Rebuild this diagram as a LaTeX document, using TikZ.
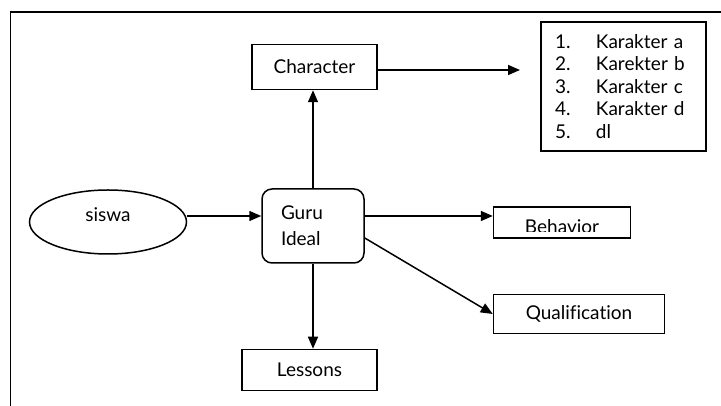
\documentclass[tikz,border=0pt]{standalone}
\usepackage{fontspec}
\setmainfont{Lato}[Ligatures=NoCommon]
\usetikzlibrary{arrows.meta,positioning,shapes.geometric}

\begin{document}
\begin{tikzpicture}[x=1pt,y=1pt,>={Triangle[length=12pt,width=10pt]},
                    line width=1.5pt,font=\fontsize{19}{22.5}\selectfont,
                    box node/.style={rectangle,draw,inner sep=0pt}]
  \useasboundingbox (0,0) rectangle (721,406);
  \draw (10.5,0) -- (10.5,394) -- (721,394);
  \node[box node,rounded corners=10pt,minimum width=102pt,minimum height=74pt,
        align=left,text width=64pt,inner xsep=19pt,
        font=\fontsize{19}{26}\selectfont] (guru) at (313,180) {Guru\\Ideal};
  \node[box node,minimum width=125pt,minimum height=45pt] (character) [above=98pt of guru,xshift=1.5pt] {Character};
  \node[box node,minimum width=135pt,minimum height=41pt] (lessons) [below=85pt of guru,xshift=-3.5pt] {Lessons};
  \node[ellipse,draw,minimum width=157pt,minimum height=64pt,inner sep=0pt,
        text height=6pt,text depth=6pt] (siswa) [left=74pt of guru,yshift=4pt] {siswa};
  \node[box node,minimum width=137pt,minimum height=31pt] (behavior) [right=128pt of guru,yshift=3.5pt] {};
  \begin{scope}
    \clip (behavior.north west) rectangle ([yshift=7.5pt]behavior.south east);
    \node[anchor=base] (behaviortext) at ([yshift=5.5pt]behavior.south) {Behavior};
  \end{scope}
  \node[box node,minimum width=171pt,minimum height=39pt] (qualification) [below=55pt of behavior.south west,anchor=north west] {Qualification};
  \node[box node,minimum width=165pt,minimum height=129pt,align=left,
        text width=137pt,inner xsep=14pt] (list) at (623.5,319.5)
    {\makebox[41pt][l]{1.}Karakter a\\
     \makebox[41pt][l]{2.}Karekter b\\
     \makebox[41pt][l]{3.}Karakter c\\
     \makebox[41pt][l]{4.}Karakter d\\
     \makebox[41pt][l]{5.}dl};
  \coordinate (charend) at (520,336);
  \path[->]
    ([yshift=6pt]siswa.east) edge ([yshift=10pt]guru.west)
    (guru.north) edge (guru.north |- character.south)
    (charend -| character.east) edge (charend)
    ([yshift=10pt]guru.east) edge ([yshift=6.5pt]behavior.west)
    ([yshift=-12pt]guru.east) edge (qualification.west)
    (guru.south) edge (guru.south |- lessons.north)
    ;
\end{tikzpicture}
\end{document}
